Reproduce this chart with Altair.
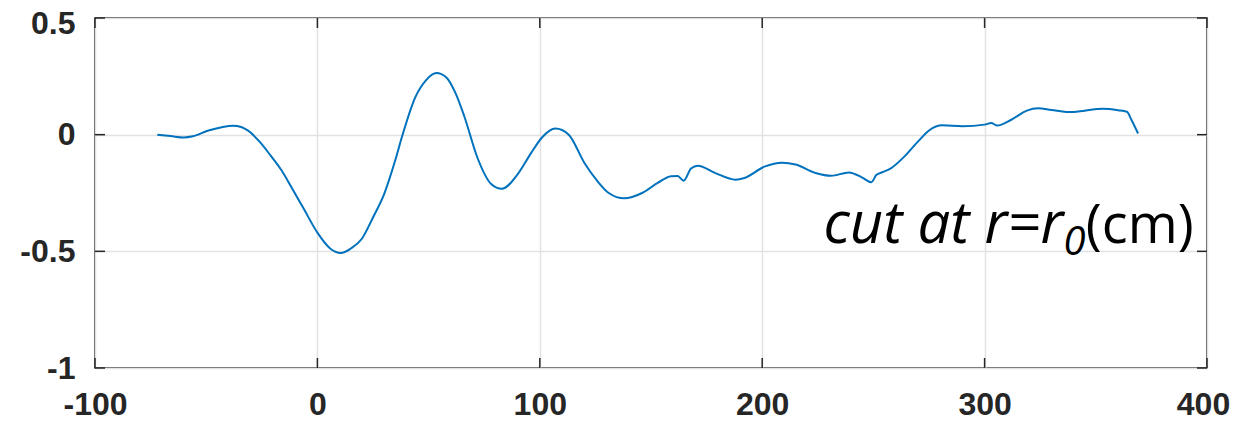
import altair as alt
import pandas as pd

# curve data
xs = [-72, -66, -60, -56, -49, -43, -38, -34, -31, -26, -21, -16, -12, -6, 0, 6, 10.5, 15, 20, 25,
      30, 35, 38, 44, 49, 53.5, 58, 62, 66, 72, 78, 83, 90, 96, 101, 107, 113, 120, 126, 131,
      138, 146, 153, 159, 162, 164.7, 168, 171, 179, 188, 192, 201, 209, 215, 224, 231, 239, 245, 249, 251.4,
      254, 258, 264, 270, 275, 281, 290, 300, 303, 305.5, 312, 319, 324, 330, 338, 345, 353, 360, 364, 366, 369]
ys = [0.0, -0.006, -0.012, -0.007, 0.018, 0.032, 0.038, 0.032, 0.016, -0.03, -0.09, -0.155, -0.22, -0.32, -0.42, -0.49, -0.507, -0.488, -0.446, -0.355,
      -0.255, -0.11, -0.01, 0.16, 0.235, 0.264, 0.245, 0.18, 0.08, -0.10, -0.21, -0.232, -0.17, -0.08, -0.012, 0.026, 0.0, -0.12, -0.20, -0.25,
      -0.273, -0.25, -0.207, -0.178, -0.177, -0.197, -0.145, -0.133, -0.165, -0.193, -0.186, -0.137, -0.12, -0.128, -0.164, -0.176, -0.162, -0.184, -0.204, -0.172,
      -0.161, -0.143, -0.093, -0.03, 0.018, 0.04, 0.036, 0.043, 0.05, 0.039, 0.064, 0.103, 0.113, 0.106, 0.097, 0.103, 0.111, 0.105, 0.098, 0.064, 0.005]

x_ticks = [-100, 0, 100, 200, 300, 400]
y_ticks = [-1, -0.5, 0, 0.5]
ann_text = ["cut at r=r", "0", "(cm)"]
ann_x = [227.6]
ann_y = [-0.4625]

W, H = 1112, 350
INK = "#262626"
FONT = "Liberation Sans"

df = pd.DataFrame({"x": xs, "y": ys})
xt = pd.DataFrame({"x": x_ticks})
yt = pd.DataFrame({"y": y_ticks})
ann = pd.DataFrame({"x": ann_x, "y": ann_y})

xscale = alt.Scale(domain=[-100, 400], nice=False, zero=False)
yscale = alt.Scale(domain=[-1, 0.5], nice=False, zero=False)

xaxis = alt.Axis(values=x_ticks, title=None, domain=False, ticks=False, tickSize=0,
                 labelFont=FONT, labelFontSize=32, labelColor=INK, labelPadding=21,
                 labelFontWeight="bold",
                 labelOffset={"condition": {"test": "datum.value == 400", "value": -4}, "value": 0},
                 grid=True, gridColor="#e2e2e2", gridWidth=1.5, labelFlush=False,
                 labelExpr="toString(datum.value)")
yaxis = alt.Axis(values=y_ticks, title=None, domain=False, ticks=False, tickSize=0,
                 labelFont=FONT, labelFontSize=32, labelColor=INK, labelPadding=20,
                 labelFontWeight="bold",
                 labelOffset={"condition": {"test": "datum.value == 0.5", "value": 5}, "value": 0},
                 grid=True, gridColor="#e2e2e2", gridWidth=1.5, labelFlush=False,
                 labelExpr="toString(datum.value)")

line = alt.Chart(df).mark_line(color="#0072BD", strokeWidth=2, interpolate="monotone").encode(
    x=alt.X("x:Q", scale=xscale, axis=xaxis),
    y=alt.Y("y:Q", scale=yscale, axis=yaxis),
)

tick_style = dict(color=INK, strokeWidth=1.5)
xt_bottom = alt.Chart(xt).mark_rule(**tick_style).encode(
    x=alt.X("x:Q", scale=xscale), y=alt.value(H), y2=alt.value(H - 10))
xt_top = alt.Chart(xt).mark_rule(**tick_style).encode(
    x=alt.X("x:Q", scale=xscale), y=alt.value(0), y2=alt.value(10))
yt_left = alt.Chart(yt).mark_rule(**tick_style).encode(
    y=alt.Y("y:Q", scale=yscale), x=alt.value(0), x2=alt.value(10))
yt_right = alt.Chart(yt).mark_rule(**tick_style).encode(
    y=alt.Y("y:Q", scale=yscale), x=alt.value(W), x2=alt.value(W - 10))

t1 = alt.Chart(ann).mark_text(text=ann_text[0], font="Open Sans", fontStyle="italic", fontSize=58,
                              align="left", baseline="alphabetic", color="black").encode(
    x=alt.X("x:Q", scale=xscale), y=alt.Y("y:Q", scale=yscale))
t2 = alt.Chart(ann).mark_text(text=ann_text[1], font="Open Sans", fontStyle="italic", fontSize=40,
                              align="left", baseline="alphabetic", color="black", dx=240, dy=12).encode(
    x=alt.X("x:Q", scale=xscale), y=alt.Y("y:Q", scale=yscale))
t3 = alt.Chart(ann).mark_text(text=ann_text[2], font="Open Sans", fontSize=54,
                              align="right", baseline="alphabetic", color="black", dx=370).encode(
    x=alt.X("x:Q", scale=xscale), y=alt.Y("y:Q", scale=yscale))

chart = alt.layer(line, xt_bottom, xt_top, yt_left, yt_right, t1, t2, t3).properties(
    width=W, height=H,
    autosize=alt.AutoSizeParams(type="none"),
    padding={"left": 87, "top": 10, "right": 25, "bottom": 56},
).configure_view(stroke=INK, strokeWidth=1.6)

chart.save("out.html", embed_options={"renderer": "svg", "actions": False})
